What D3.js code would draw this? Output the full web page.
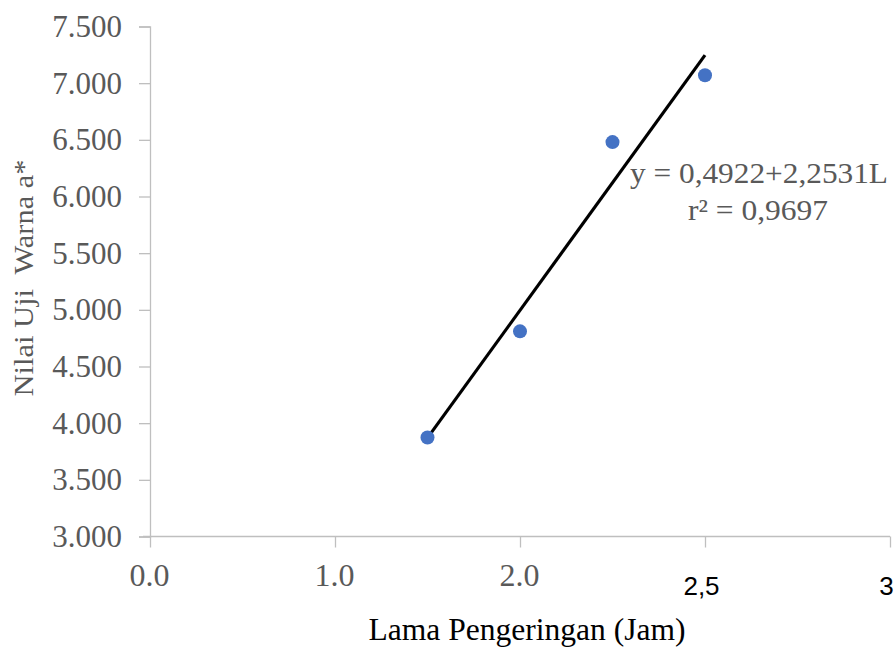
<!DOCTYPE html>
<html><head><meta charset="utf-8">
<script src="https://cdn.jsdelivr.net/npm/d3@7"></script>
<style>html,body{margin:0;padding:0;background:#fff;}svg{display:block;}</style>
</head><body>
<svg id="c" width="896" height="647"></svg>
<script>
const xValues = [1.5, 2.0, 2.5, 3.0];
const yValues = [3.874, 4.81, 6.48, 7.07];
const yTicks = [3.0, 3.5, 4.0, 4.5, 5.0, 5.5, 6.0, 6.5, 7.0, 7.5];
const xTicks = [0, 1, 2, 3, 4];
const xTickLabels = ["0.0", "1.0", "2.0", "2,5", "3"];
const xTitle = "Lama Pengeringan (Jam)";
const yTitle = "Nilai Uji  Warna a*";
const eqLine1 = "y = 0,4922+2,2531L";
const eqLine2 = "r² = 0,9697";

const svg = d3.select("#c");
const x = d3.scaleLinear().domain([0, 4]).range([150, 890]);
const y = d3.scaleLinear().domain([3, 7.5]).range([536.5, 26.5]);
const grey = "#595959", axisCol = "#bfbfbf";
const serif = "'Liberation Serif','Times New Roman',serif";

// y axis
const yAxis = svg.append("g").attr("transform", "translate(150,0)")
  .call(d3.axisLeft(y).tickValues(yTicks).tickSize(11).tickPadding(17)
    .tickFormat(d => d3.format(".3f")(d)));
yAxis.select(".domain").attr("stroke", axisCol).attr("stroke-width", 1.3);
yAxis.selectAll(".tick line").attr("stroke", axisCol).attr("stroke-width", 1.3);
yAxis.selectAll(".tick text").attr("fill", grey).attr("font-family", serif).attr("font-size", 31);

// x axis
const xAxis = svg.append("g").attr("transform", `translate(0,${y(3)})`)
  .call(d3.axisBottom(x).tickValues(xTicks).tickSizeOuter(0).tickSize(11).tickPadding(16)
    .tickFormat((d, i) => xTickLabels[i]));
xAxis.select(".domain").attr("stroke", axisCol).attr("stroke-width", 1.3);
xAxis.selectAll(".tick line").attr("stroke", axisCol).attr("stroke-width", 1.3);
xAxis.selectAll(".tick text").each(function(d, i) {
  const t = d3.select(this);
  if (i < 3) {
    t.attr("fill", grey).attr("font-family", serif).attr("font-size", 32).attr("x", -1);
  } else {
    t.attr("fill", "#000").attr("font-family", "'Liberation Sans',Arial,sans-serif")
     .attr("font-size", 26).attr("dy", "1.2em").attr("x", -4);
  }
});
xAxis.select(".domain").attr("d", `M${x(0) - 7},0H${x(4)}`);

// regression line
const mx = d3.mean(xValues), my = d3.mean(yValues);
const slope = d3.sum(xValues, (v, i) => (v - mx) * (yValues[i] - my)) / d3.sum(xValues, v => (v - mx) ** 2);
const icpt = my - slope * mx;
const xMin = d3.min(xValues), xMax = d3.max(xValues);
svg.append("line")
  .attr("x1", x(xMin)).attr("y1", y(icpt + slope * xMin))
  .attr("x2", x(xMax)).attr("y2", y(icpt + slope * xMax))
  .attr("stroke", "#000").attr("stroke-width", 3.2);

// points
svg.append("g").selectAll("circle").data(xValues).join("circle")
  .attr("cx", d => x(d)).attr("cy", (d, i) => y(yValues[i]))
  .attr("r", 7).attr("fill", "#4472c4");

// equation
svg.append("text").attr("x", 759).attr("y", 183).attr("text-anchor", "middle")
  .attr("font-family", serif).attr("font-size", 30).attr("fill", grey)
  .attr("textLength", 258).attr("lengthAdjust", "spacingAndGlyphs").text(eqLine1);
svg.append("text").attr("x", 758).attr("y", 220).attr("text-anchor", "middle")
  .attr("font-family", serif).attr("font-size", 30).attr("fill", grey)
  .attr("textLength", 140).attr("lengthAdjust", "spacingAndGlyphs").text(eqLine2);

// axis titles
svg.append("text").attr("x", 527).attr("y", 640).attr("text-anchor", "middle")
  .attr("font-family", serif).attr("font-size", 31).attr("fill", "#000")
  .attr("textLength", 317).attr("lengthAdjust", "spacingAndGlyphs").text(xTitle);
svg.append("text").attr("transform", "translate(33,278) rotate(-90)").attr("text-anchor", "middle")
  .attr("font-family", serif).attr("font-size", 28).attr("fill", grey)
  .attr("textLength", 237).attr("lengthAdjust", "spacingAndGlyphs")
  .style("white-space", "pre").text(yTitle);
</script>
</body></html>
